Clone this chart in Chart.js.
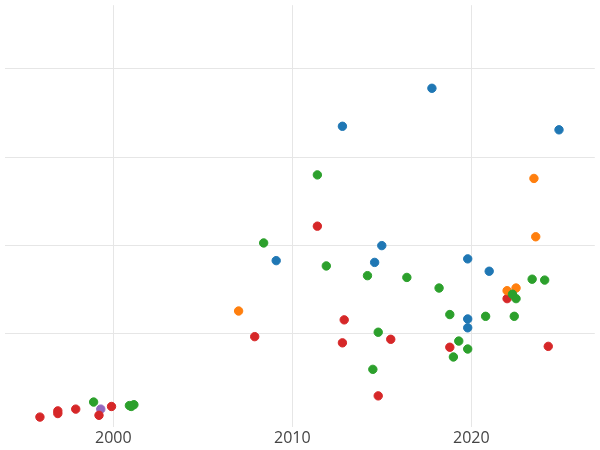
<!DOCTYPE html>
<html><head><script src="https://cdn.jsdelivr.net/npm/chart.js"></script>
<style>body{margin:0}#w{width:600px;height:450px}</style></head>
<body><div id="w"><canvas id="c"></canvas></div>
<script>
const redX=[1995.9,1996.9,1996.9,1997.9,1999.2,1999.9,2011.4,2012.9,2012.8,2007.9,2015.5,2014.8,2018.8,2022.0,2024.3];
const redY=[0.06,0.13,0.10,0.15,0.08,0.18,2.22,1.16,0.90,0.97,0.94,0.30,0.85,1.40,0.86];
const blueX=[2012.8,2017.8,2024.9,2009.1,2015.0,2014.6,2019.8,2021.0,2019.8,2019.8];
const blueY=[3.35,3.78,3.31,1.83,2.0,1.81,1.85,1.71,1.17,1.07];
const greenX=[1998.9,2000.9,2001.15,2001.0,2011.4,2008.4,2011.9,2014.2,2016.4,2018.2,2018.8,2014.8,2014.5,2019.3,2019.0,2019.8,2020.8,2022.4,2023.4,2024.1,2022.5,2022.3];
const greenY=[0.23,0.19,0.2,0.18,2.80,2.03,1.77,1.66,1.64,1.52,1.22,1.02,0.60,0.92,0.74,0.83,1.20,1.20,1.62,1.61,1.40,1.45];
const orangeX=[2007.0,2023.5,2023.6,2022.0,2022.5];
const orangeY=[1.26,2.76,2.10,1.49,1.52];
const purpleX=[1999.3];
const purpleY=[0.15];
const xTicks=[2000,2010,2020];
const pts=(xs,ys)=>xs.map((x,i)=>({x,y:ys[i]}));
const ds=(xs,ys,c)=>({data:pts(xs,ys),backgroundColor:c,borderColor:c,pointRadius:4.2,pointHoverRadius:4.2});
new Chart(document.getElementById('c'),{type:'scatter',
data:{datasets:[ds(blueX,blueY,'#1f77b4'),ds(greenX,greenY,'#2ca02c'),ds(orangeX,orangeY,'#ff7f0e'),ds(redX,redY,'#d62728'),ds(purpleX,purpleY,'#9467bd')]},
options:{responsive:true,maintainAspectRatio:false,animation:false,layout:{padding:0},
plugins:{legend:{display:false},tooltip:{enabled:false}},
scales:{
x:{min:1993.96,max:2026.9,afterBuildTicks:a=>{a.ticks=xTicks.map(v=>({value:v}));},
 grid:{color:'#e6e6e6',drawTicks:false},border:{display:false},
 ticks:{color:'#444',font:{size:16,family:'Open Sans'},padding:2,callback:v=>String(v)}},
y:{min:-0.05,max:4.72,afterFit:s=>{s.width=0;},ticks:{display:false,stepSize:1},
 afterBuildTicks:a=>{a.ticks=[1,2,3,4].map(v=>({value:v}));},
 grid:{color:'#e6e6e6',drawTicks:false},border:{display:false}}
}}});
</script></body></html>
